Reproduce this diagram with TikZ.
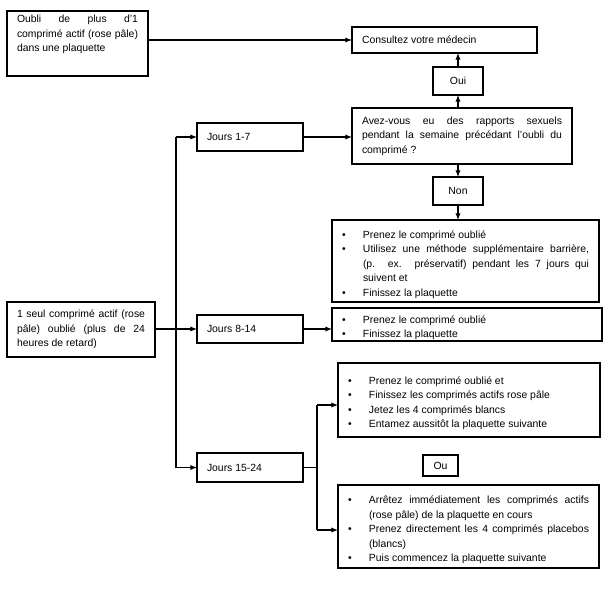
\documentclass[tikz,border=0pt]{standalone}
\usepackage{fontspec}
\setmainfont{Liberation Sans}
\usetikzlibrary{arrows.meta}
\newcommand{\bul}[1]{\par\noindent\hangindent=15.75pt\hangafter=1\makebox[15.75pt][l]{\textbullet}#1\par}
\begin{document}
\begin{tikzpicture}[x=0.75pt,y=-0.75pt,
  every node/.style={font=\fontsize{7.8}{10.9}\selectfont},
  box/.style={draw, line width=1pt, anchor=north west, inner xsep=7.5pt, inner ysep=0pt, outer sep=0pt, align=justify},
  lbl/.style={draw, line width=1pt, anchor=north west, inner sep=0pt, outer sep=0pt, align=center},
  conn/.style={line width=0.9pt},
  arr/.style={conn, -{Latex[length=5pt,width=4pt]}}]
\useasboundingbox (0,0) rectangle (612,593);
% boxes
\node[box, inner ysep=3pt] (A) at (7,11) {\parbox[c][42.75pt][t]{90.75pt}{Oubli de plus d’1\linebreak comprimé actif (rose pâle)\linebreak dans une plaquette}};
\node[box, text width=123.75pt, minimum height=19.5pt] (B) at (352,27) {Consultez votre médecin};
\node[lbl, minimum width=37.5pt, minimum height=21pt] (C) at (433,67) {Oui};
\node[box, text width=150pt, minimum height=42pt] (D) at (352,108) {Avez-vous eu des rapports sexuels\linebreak pendant la semaine précédant l’oubli du\linebreak comprimé ?};
\node[lbl, minimum width=37.5pt, minimum height=21pt] (E) at (433,177) {Non};
\node[box, text width=185.25pt, minimum height=61.5pt] (F) at (332,220) {%
\bul{Prenez le comprimé oublié}%
\bul{Utilisez une méthode supplémentaire barrière,\linebreak (p. ex. préservatif) pendant les 7 jours qui\linebreak suivent et}%
\bul{Finissez la plaquette}};
\node[box, text width=96pt, minimum height=41.25pt] (G) at (7,302) {1 seul comprimé actif (rose\linebreak pâle) oublié (plus de 24\linebreak heures de retard)};
\node[box, text width=64.5pt, minimum height=21pt] (J1) at (197,123) {Jours 1-7};
\node[box, text width=64.5pt, minimum height=21pt] (J2) at (197,315) {Jours 8-14};
\node[box, text width=64.5pt, minimum height=21.75pt] (J3) at (197,453) {Jours 15-24};
\node[box, text width=187.5pt, minimum height=24.75pt] (H) at (332,308) {%
\bul{Prenez le comprimé oublié}%
\bul{Finissez la plaquette}};
\node[box, text width=181.5pt, minimum height=55.5pt] (K) at (338,363) {%
\bul{Prenez le comprimé oublié et}%
\bul{Finissez les comprimés actifs rose pâle}%
\bul{Jetez les 4 comprimés blancs}%
\bul{Entamez aussitôt la plaquette suivante}\vspace{3pt}};
\node[lbl, minimum width=26.25pt, minimum height=15.75pt] (L) at (423,455) {Ou};
\node[box, text width=180.75pt, minimum height=62.25pt] (M) at (338,485) {%
\bul{Arrêtez immédiatement les comprimés actifs\linebreak (rose pâle) de la plaquette en cours}%
\bul{Prenez directement les 4 comprimés placebos\linebreak (blancs)}%
\bul{Puis commencez la plaquette suivante}};
% connectors
\draw[arr] (A.east |- B.west) -- (B.west);
\draw[arr] (C.north) -- (C.north |- B.south);
\draw[arr] (C.south |- D.north) -- (C.south);
\draw[arr] (E.north |- D.south) -- (E.north);
\draw[arr] (E.south) -- (E.south |- F.north);
\coordinate (tr) at (176,0);
\draw[conn] (tr |- J1.west) -- (tr |- J3.west);
\draw[arr] (G.east |- J2.west) -- (J2.west);
\draw[arr] (tr |- J1.west) -- (J1.west);
\draw[arr] (tr |- J3.west) -- (J3.west);
\draw[arr] (J1.east) -- (J1.east -| D.west);
\draw[arr] (J2.east) -- (J2.east -| H.west);
\coordinate (k1) at (317,405);
\coordinate (m1) at (317,530);
\draw[conn] (J3.east) -- (J3.east -| k1);
\draw[conn] (k1) -- (m1);
\draw[arr] (k1) -- (k1 -| K.west);
\draw[arr] (m1) -- (m1 -| M.west);
\end{tikzpicture}
\end{document}
